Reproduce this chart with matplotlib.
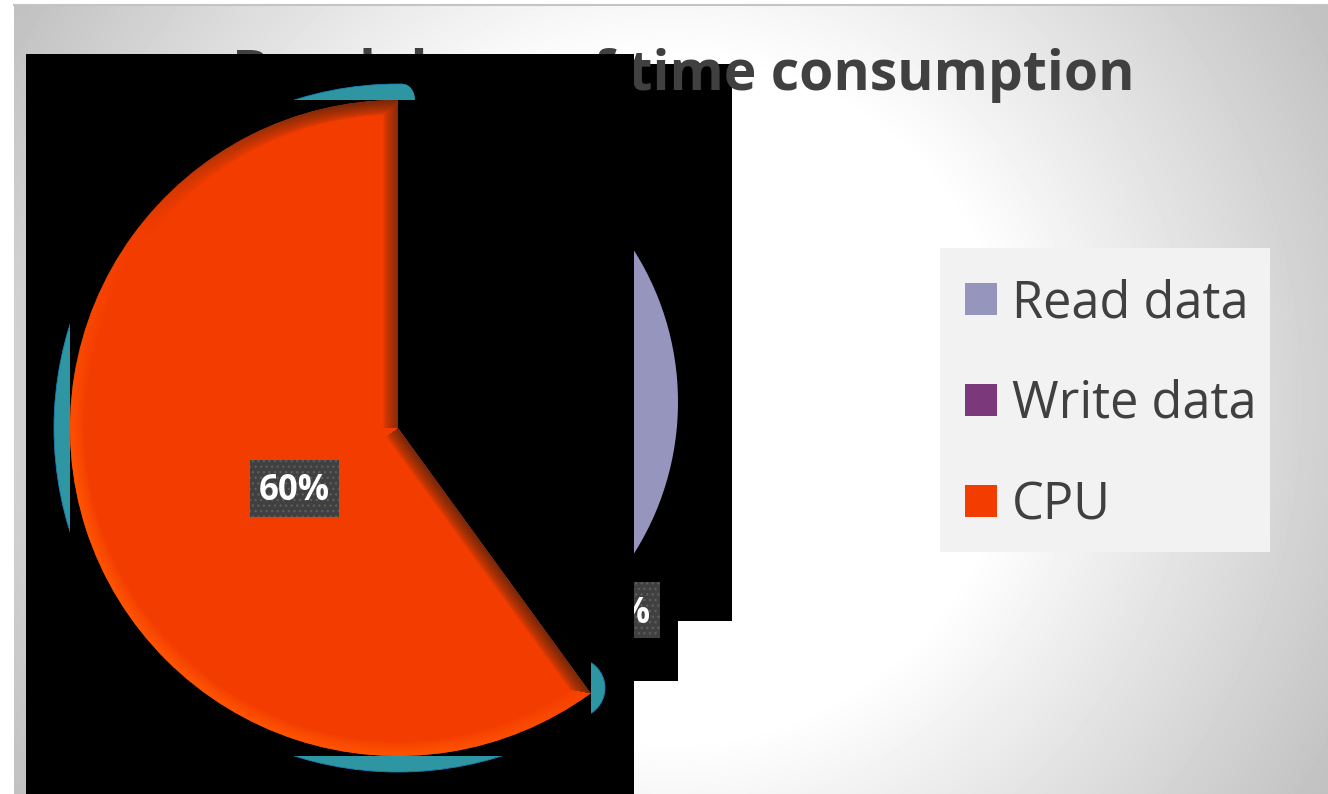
from matplotlib import pyplot as plt
from matplotlib.patches import Circle, Rectangle
from matplotlib.path import Path
from matplotlib.transforms import Bbox, TransformedBbox
import numpy as np

plt.rcParams['font.family'] = ['Open Sans', 'DejaVu Sans']

W, H = 1328, 794

title = 'Breakdown of time consumption'
names = ['Read data', 'Write data', 'CPU']
shares = [38, 2, 60]
colors = ['#9595bd', '#7b397c', '#f33c00']
teal = '#2e96a3'


def Y(py):
    return H - py


def box(x0, y0, x1, y1):
    return Path([(x0, Y(y0)), (x1, Y(y0)), (x1, Y(y1)), (x0, Y(y1)), (x0, Y(y0))], closed=True)


fig = plt.figure(figsize=(W / 100, H / 100), dpi=100)
ax = fig.add_axes([0, 0, 1, 1])

# slide background
xx, yy = np.meshgrid(np.arange(W) + 0.5, np.arange(H) + 0.5)
dist = np.hypot(xx - 671, yy - 400)
grey = np.clip(255 - (dist - 340) * 65 / 440, 190, 255)
bg = ax.imshow(grey, cmap='gray', vmin=0, vmax=255, extent=(0, W, 0, H), zorder=0, aspect='auto')
bg.set_clip_path(box(14, 5, W, H), transform=ax.transData)
ax.plot([14, W], [Y(5), Y(5)], color='#c4c4c4', lw=1.5, zorder=1)

# the block on the right sits under the title, the big one over it
for x0, y0, x1, y1 in [(634, 64, 732, 621), (634, 621, 678, 681)]:
    ax.add_patch(Rectangle((x0, Y(y1)), x1 - x0, y1 - y0, fc='black', ec='none', zorder=1.5))
ax.text(232, Y(90), title, fontsize=39.8, fontweight='bold', color='#404040', ha='left', va='baseline', zorder=2)
ax.add_patch(Rectangle((26, 0), 608, Y(54), fc='black', ec='none', zorder=3))

# teal glow pieces
glow = Circle((398, Y(428)), 344, fc=teal, ec='#1a7fb8', lw=0.6, zorder=4)
ax.add_patch(glow)
corner = np.radians(np.linspace(90, 0, 12))
top_clip = Path([(270, Y(70)), (403, Y(70))]
                + [(403 + 12 * np.cos(a), Y(100 - 16 * np.sin(a))) for a in corner]
                + [(270, Y(100)), (270, Y(70))], closed=True)
clip = Path.make_compound_path(box(40, 300, 70, 560), top_clip, box(270, 756, 520, 790))
glow.set_clip_path(clip, transform=ax.transData)
tip = Circle((575, Y(688)), 30, fc=teal, ec='#1a7fb8', lw=0.6, zorder=4)
ax.add_patch(tip)
tip.set_clip_path(box(591, 650, 620, 725), transform=ax.transData)

# read data slice, only the part right of x=634 shows
read_w, _ = ax.pie(shares, colors=colors, center=(395, Y(402)), radius=283, startangle=90, counterclock=False)
for w in read_w:
    w.set_zorder(5)
    w.set_clip_on(True)
    w.set_clip_path(box(634, 60, 732, 621), transform=ax.transData)

# cpu slice with bevel
cpu_w, _ = ax.pie(shares, colors=colors, center=(398, Y(428)), radius=328, startangle=90, counterclock=False)
cpu_w[0].set_visible(False)
cpu_w[1].set_visible(False)
cpu_w[2].set_zorder(6)

dx = xx - 398
dy = yy - 428
r = np.maximum(np.hypot(dx, dy), 1)
ux, uy = np.sin(np.radians(144)), -np.cos(np.radians(144))
d_arc = 328 - r
d_up = np.where(dy < 0, np.abs(dx), 999.0)
t2 = dx * ux + dy * uy
d_low = np.where(t2 > 0, np.abs(dx * uy - dy * ux), 999.0)
d = np.minimum(np.minimum(d_arc, d_up), d_low)
nx = dx / r
ny = dy / r
nx = np.where(d == d_up, 1.0, nx)
ny = np.where(d == d_up, 0.0, ny)
nx = np.where(d == d_low, uy, nx)
ny = np.where(d == d_low, -ux, ny)
shade = nx * -0.6 + ny * 0.8
weight = np.clip(1 - d / 15, 0, 1)
light = np.array([1.0, 0.33, 0.0])
dark = np.array([0.45, 0.16, 0.04])
rgba = np.zeros((H, W, 4))
rgba[..., :3] = np.where(shade[..., None] > 0, light, dark)
rgba[..., 3] = weight ** 0.7 * np.clip(np.abs(shade) * 1.4, 0, 1)
bevel = ax.imshow(rgba, extent=(0, W, 0, H), zorder=7, aspect='auto')
bevel.set_clip_path(cpu_w[2])

# percent labels
ax.add_patch(Rectangle((250, Y(517)), 89, 57, fc='#404040', ec='#5c5c5c', lw=0, hatch='...', zorder=8))
ax.text(294.5, Y(491), '%d%%' % shares[2], fontsize=25, fontweight='bold', color='white', ha='center', va='center', zorder=9)
ax.add_patch(Rectangle((634, Y(638)), 26, 56, fc='#404040', ec='#5c5c5c', lw=0, hatch='...', zorder=8))
t = ax.text(615.5, Y(614), '%d%%' % shares[0], fontsize=25, fontweight='bold', color='white', ha='center', va='center', zorder=9)
t.set_clip_on(True)
t.set_clip_box(TransformedBbox(Bbox([[634, Y(638)], [660, Y(582)]]), ax.transData))

# legend
ax.add_patch(Rectangle((940, Y(552)), 330, 304, fc='#f2f2f2', ec='none', zorder=2))
for i in range(len(names)):
    top = 283 + 101 * i
    ax.add_patch(Rectangle((965, Y(top + 32)), 32, 32, fc=colors[i], ec='none', zorder=3))
    ax.text(1012, Y(top + 34), names[i], fontsize=36.4, color='#404040', ha='left', va='baseline', zorder=3)

ax.set_xlim(0, W)
ax.set_ylim(0, H)
ax.set_aspect('auto')
ax.axis('off')
plt.savefig('out.png', dpi=100, facecolor='white')
